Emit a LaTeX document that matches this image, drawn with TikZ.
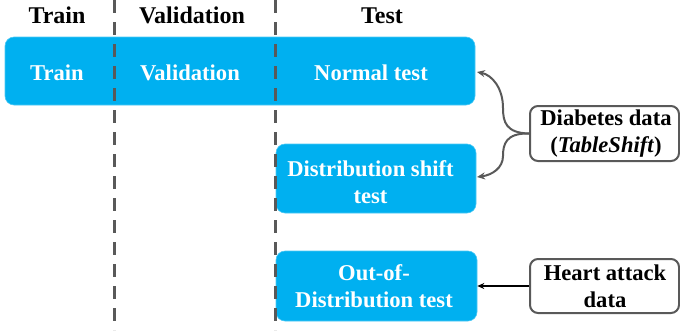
\documentclass[tikz,border=0pt]{standalone}
\usepackage{fontspec}
\setmainfont{Liberation Serif}
\usetikzlibrary{arrows.meta}
\definecolor{boxblue}{HTML}{00B0F0}
\definecolor{darkgray}{HTML}{595959}
\tikzset{
  bluebox/.style={fill=boxblue, draw=boxblue!70!white, line width=0.6pt, rounded corners=9pt, inner sep=0pt},
  whitebox/.style={fill=white, draw=darkgray, line width=2pt, rounded corners=8pt, inner sep=0pt},
  wtext/.style={text=white, font=\bfseries\fontsize{22.6}{27}\selectfont, align=center, inner sep=0pt},
  btext/.style={text=black, font=\bfseries\fontsize{22.6}{27}\selectfont, align=center, inner sep=0pt},
  htext/.style={text=black, font=\bfseries\fontsize{24}{28}\selectfont, inner sep=0pt, anchor=base},
  divider/.style={draw=darkgray, line width=3pt, dash pattern=on 13pt off 9pt},
  grayarrow/.style={draw=darkgray, line width=2pt, -{Stealth[length=8pt,width=7pt]}},
  blackarrow/.style={draw=black, line width=1.6pt, -{Stealth[length=7pt,width=6pt]}}
}
\begin{document}
\begin{tikzpicture}[x=1pt,y=-1pt]
\useasboundingbox (0,0) rectangle (680,330);
% boxes
\node[bluebox, minimum width=470pt, minimum height=68pt] (mainbox) at (240,71) {};
\node[bluebox, minimum width=200pt, minimum height=69pt] (distbox) at (376,178.5) {};
\node[bluebox, minimum width=201pt, minimum height=70pt] (oodbox) at (376.5,286) {};
\node[whitebox, minimum width=149pt, minimum height=55pt] (diab) at (604.5,133.5) {};
\node[whitebox, minimum width=149pt, minimum height=54pt] (heart) at (604.5,286) {};
% dividers
\coordinate (d1top) at (114,0);
\coordinate (d1bot) at (114,330);
\coordinate (d2top) at (275,0);
\coordinate (d2bot) at (275,330);
\draw[divider] (d1top) -- (d1bot);
\draw[divider] (d2top) -- (d2bot);
% headers
\node[htext] (h1) at (57,23) {Train};
\node[htext] (h2) at (192,23) {Validation};
\node[htext] (h3) at (382,23) {Test};
% box texts
\node[wtext, anchor=base] (t1) at (57,80) {Train};
\node[wtext, anchor=base] (t2) at (190,80) {Validation};
\node[wtext, anchor=base] (t3) at (371,80) {Normal test};
\node[wtext] (t4) at (370.5,182) {Distribution shift\\test};
\node[wtext] (t5) at (374,286) {Out-of-\\Distribution test};
\node[btext] (t6) at (606,134) {Diabetes data\\(\textit{TableShift})};
\node[btext] (t7) at (605,286) {Heart attack\\data};
% arrows
\coordinate (ntip) at (477,72);
\coordinate (dtip) at (477,177);
\draw[grayarrow] (diab.west) .. controls (506,133) and (503,122) .. (503,108) .. controls (503,88) and (492,75) .. (ntip);
\draw[grayarrow] (diab.west) .. controls (506,133) and (503,144) .. (503,156) .. controls (503,168) and (492,175) .. (dtip);
\draw[blackarrow] (heart.west) -- (oodbox.east);
\end{tikzpicture}
\end{document}
